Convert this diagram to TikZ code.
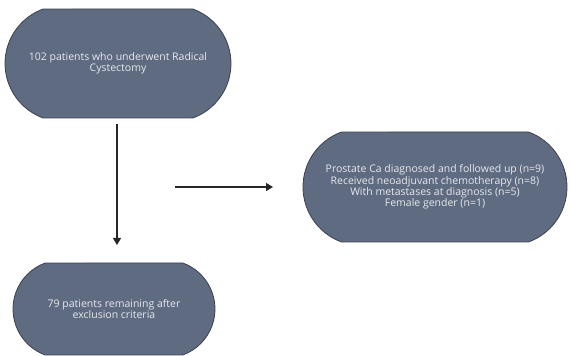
\documentclass[tikz,border=0pt]{standalone}
\usepackage{fontspec}
\setmainfont{Open Sans}
\usepackage{xcolor}
\usepackage{tikz}
\usetikzlibrary{positioning, arrows.meta, shapes.misc, calc}

\definecolor{boxfill}{HTML}{5F6B80}
\definecolor{boxline}{HTML}{3A4150}
\definecolor{boxtext}{HTML}{E6E9EE}

\tikzset{
  flowbox/.style={rounded rectangle, rounded rectangle arc length=140, fill=boxfill, draw=boxline, line width=0.8pt,
    text=boxtext, align=center, font=\fontsize{10.5}{11.2}\selectfont, inner sep=0pt},
  flowarrow/.style={line width=1.1pt, color=black!85, -{Triangle[length=7pt, width=8pt]}}
}

\begin{document}
\begin{tikzpicture}[x=1pt, y=1pt]
  \useasboundingbox (0, 0) rectangle (571, 356);

  \node [flowbox, minimum width=226, minimum height=109] (start) at (118, 292.5) {102 patients who underwent Radical\\Cystectomy};
  \node [flowbox, minimum width=264, minimum height=110] (excluded) at (435, 169) {Prostate Ca diagnosed and followed up (n=9)\\Received neoadjuvant chemotherapy (n=8)\\With metastases at diagnosis (n=5)\\Female gender (n=1)};
  \node [flowbox, minimum width=202, minimum height=92] (remaining) at (114, 47) {79 patients remaining after\\exclusion criteria};

  \coordinate (down top) at (117, 232);
  \coordinate (down end) at (117, 111);
  \coordinate (side start) at (175, 169);
  \coordinate (side end) at (273, 169);

  \draw [flowarrow] (down top) -- (down end);
  \draw [flowarrow] (side start) -- (side end);

\end{tikzpicture}
\end{document}
